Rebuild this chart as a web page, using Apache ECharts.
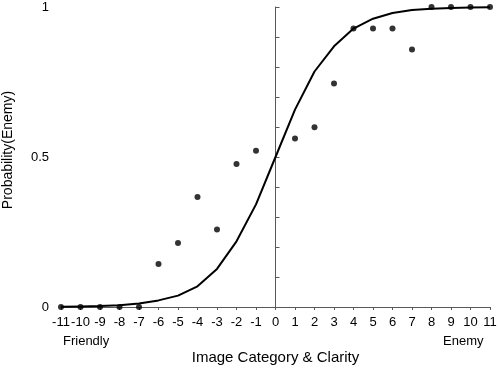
<!DOCTYPE html>
<html>
<head>
<meta charset="utf-8">
<script src="https://cdn.jsdelivr.net/npm/echarts@6/dist/echarts.min.js"></script>
<style>
  html, body { margin: 0; padding: 0; background: #fff; }
  #chart1 { width: 498px; height: 368px; }
</style>
</head>
<body>
<div id="chart1"></div>
<script>
// fitted curve, read at each category
const curveX = [-11, -10, -9, -8, -7, -6, -5, -4, -3, -2, -1, 0, 1, 2, 3, 4, 5, 6, 7, 8, 9, 10, 11];
const curveY = [0.001, 0.002, 0.003, 0.006, 0.012, 0.022, 0.038, 0.069, 0.127, 0.219, 0.342, 0.5,
                0.658, 0.785, 0.869, 0.928, 0.961, 0.98, 0.99, 0.994, 0.997, 0.998, 0.999];

// observed proportions (no point at 0)
const obsX = [-11, -10, -9, -8, -7, -6, -5, -4, -3, -2, -1, 1, 2, 3, 4, 5, 6, 7, 8, 9, 10, 11];
const obsY = [0, 0, 0, 0, 0, 0.143, 0.213, 0.367, 0.258, 0.477, 0.521,
              0.562, 0.599, 0.745, 0.928, 0.928, 0.928, 0.858, 1, 1, 1, 1];

const font = "'Liberation Sans', Arial, sans-serif";
const axisGrey = '#595959';

let chart1;

const initCharts = () => {
  chart1 = echarts.init(document.getElementById("chart1"));

  const option = {
    animation: false,
    backgroundColor: '#fff',
    textStyle: { fontFamily: font },
    grid: { left: 61, right: 8, top: 7, bottom: 61, containLabel: false, outerBoundsMode: 'none' },
    xAxis: {
      type: 'value',
      min: -11, max: 11, interval: 1,
      name: 'Image Category & Clarity',
      nameLocation: 'middle',
      nameGap: 43,
      nameTextStyle: { fontSize: 15, color: '#000', fontFamily: font },
      axisLine: { onZero: false, lineStyle: { color: axisGrey, width: 1 } },
      axisTick: { length: 3, lineStyle: { color: axisGrey } },
      axisLabel: { fontSize: 13, color: '#000', margin: 9, fontFamily: font },
      splitLine: { show: false }
    },
    yAxis: [
      {
        type: 'value',
        min: 0, max: 1, interval: 0.5,
        name: 'Probability(Enemy)',
        nameLocation: 'middle',
        nameGap: 46,
        nameTextStyle: { fontSize: 14, color: '#000', fontFamily: font, padding: [0, 0, 0, 14] },
        axisLine: { show: false, onZero: false },
        axisTick: { show: false },
        axisLabel: { fontSize: 13, color: '#000', margin: 12, fontFamily: font },
        splitLine: { show: false }
      },
      {
        type: 'value',
        position: 'left',
        min: 0, max: 1, interval: 0.1,
        axisLine: { show: true, onZero: true, onZeroAxisIndex: 0, lineStyle: { color: axisGrey, width: 1 } },
        axisTick: { show: true, inside: true, length: 4, lineStyle: { color: axisGrey } },
        axisLabel: { show: false },
        splitLine: { show: false }
      }
    ],
    graphic: [
      { type: 'text', left: 63, top: 335, style: { text: 'Friendly', fontSize: 13, fill: '#000', fontFamily: font } },
      { type: 'text', left: 443, top: 335, style: { text: 'Enemy', fontSize: 13, fill: '#000', fontFamily: font } }
    ],
    series: [
      {
        type: 'line',
        data: curveX.map((x, i) => [x, curveY[i]]),
        showSymbol: false,
        smooth: false,
        lineStyle: { color: '#000', width: 2 },
        z: 2
      },
      {
        type: 'scatter',
        data: obsX.map((x, i) => [x, obsY[i]]),
        symbol: 'circle',
        symbolSize: 6,
        itemStyle: { color: '#000' },
        z: 3
      }
    ]
  };

  chart1.setOption(option);
};

document.addEventListener('DOMContentLoaded', function () {
  initCharts();
});

window.addEventListener('resize', function () {
  chart1.resize();
});
</script>
</body>
</html>
